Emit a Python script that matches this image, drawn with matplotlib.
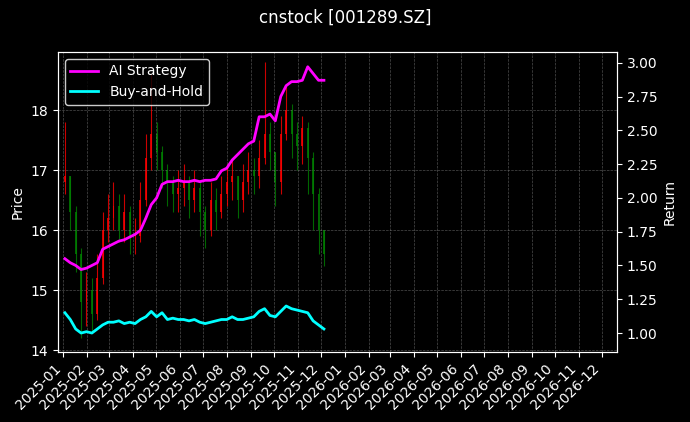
import numpy as np
import pandas as pd
import matplotlib
matplotlib.use("Agg")
import matplotlib.pyplot as plt
import matplotlib.dates as mdates

dates = pd.date_range("2025-01-03", "2025-12-05", freq="W-FRI")

closes = [16.9, 16.3, 15.6, 14.8, 15.0,
          14.6, 15.2, 16.0, 16.2,
          16.4, 16.0, 16.3, 15.9,
          15.9, 16.5, 17.2, 17.6,
          17.3, 17.0, 16.8, 16.6, 16.7,
          16.8, 16.5, 16.7, 16.3,
          16.0, 16.5, 16.3, 16.6,
          16.8, 16.9, 16.5, 16.8, 17.0,
          16.9, 17.2, 17.6, 17.3,
          16.8, 17.6, 18.0, 17.6, 17.4,
          17.7, 17.2, 16.6, 16.0,
          15.6]
highs = [17.8, 16.9, 16.4, 15.7, 15.3,
         15.2, 15.6, 16.3, 16.6,
         16.8, 16.6, 16.6, 16.4,
         16.2, 16.8, 17.6, 18.6,
         17.8, 17.4, 17.1, 16.9, 17.0,
         17.1, 16.9, 17.0, 16.8,
         16.4, 16.8, 16.7, 16.9,
         17.1, 17.2, 16.9, 17.1, 17.3,
         17.2, 17.5, 18.8, 17.8,
         17.3, 17.9, 18.4, 18.1, 17.8,
         17.9, 17.8, 17.3, 16.7,
         16.0]
lows = [16.6, 16.0, 15.3, 14.2, 14.4,
        14.3, 14.5, 15.1, 15.8,
        16.0, 15.8, 15.8, 15.6,
        15.6, 15.8, 16.4, 17.0,
        17.0, 16.7, 16.4, 16.3, 16.3,
        16.4, 16.2, 16.3, 15.9,
        15.7, 15.9, 16.0, 16.2,
        16.4, 16.5, 16.2, 16.3, 16.6,
        16.6, 16.7, 17.1, 17.0,
        16.4, 16.6, 17.5, 17.2, 17.0,
        17.1, 16.6, 16.0, 15.6,
        15.4]
ai_return = [1.55, 1.52, 1.50, 1.47, 1.48,
             1.50, 1.52, 1.62, 1.64,
             1.66, 1.68, 1.69, 1.71,
             1.73, 1.76, 1.85, 1.95,
             2.00, 2.10, 2.12, 2.12, 2.13,
             2.12, 2.12, 2.13, 2.12,
             2.13, 2.13, 2.14, 2.20,
             2.22, 2.28, 2.32, 2.36, 2.40,
             2.42, 2.60, 2.60, 2.62,
             2.57, 2.75, 2.83, 2.86, 2.86,
             2.87, 2.97, 2.92, 2.87,
             2.87]
bh_return = [1.15, 1.10, 1.03, 1.00, 1.01,
             1.00, 1.03, 1.06, 1.08,
             1.08, 1.09, 1.07, 1.08,
             1.07, 1.10, 1.12, 1.16,
             1.12, 1.15, 1.10, 1.11, 1.10,
             1.10, 1.09, 1.10, 1.08,
             1.07, 1.08, 1.09, 1.10,
             1.10, 1.12, 1.10, 1.10, 1.11,
             1.12, 1.16, 1.18, 1.13,
             1.12, 1.16, 1.20, 1.18, 1.17,
             1.16, 1.15, 1.09, 1.06,
             1.03]
opens = [16.8] + closes[:-1]

plt.style.use("dark_background")
fig, ax = plt.subplots(figsize=(6.9, 4.22), dpi=100)
fig.patch.set_facecolor("black")
ax.set_facecolor("black")

x = mdates.date2num(dates)
for xi, o, h, l, c in zip(x, opens, highs, lows, closes):
    col = "red" if c >= o else "green"
    ax.vlines(xi, l, h, color=col, linewidth=0.8, alpha=0.8)
    ax.bar(xi, abs(c - o) or 0.02, bottom=min(o, c), width=2.5, color=col, alpha=0.8)

ax.set_ylabel("Price")
ax.set_ylim(13.97, 18.97)
ax.set_xlim(mdates.date2num(pd.Timestamp("2024-12-25")), mdates.date2num(pd.Timestamp("2026-12-20")))
ax.xaxis.set_major_locator(mdates.MonthLocator())
ax.xaxis.set_major_formatter(mdates.DateFormatter("%Y-%m"))
plt.setp(ax.get_xticklabels(), rotation=45, ha="right")
ax.grid(True, color="gray", linestyle="--", linewidth=0.5, alpha=0.6)

ax2 = ax.twinx()
ax2.plot(dates, ai_return, color="magenta", linewidth=2, label="AI Strategy")
ax2.plot(dates, bh_return, color="cyan", linewidth=2, label="Buy-and-Hold")
ax2.set_ylim(0.86, 3.08)
ax2.set_ylabel("Return")
ax2.legend(loc="upper left", facecolor="black", edgecolor="white")

fig.suptitle("cnstock [001289.SZ]")
fig.subplots_adjust(left=0.084, right=0.894, top=0.877, bottom=0.166)
fig.savefig("out.png")
